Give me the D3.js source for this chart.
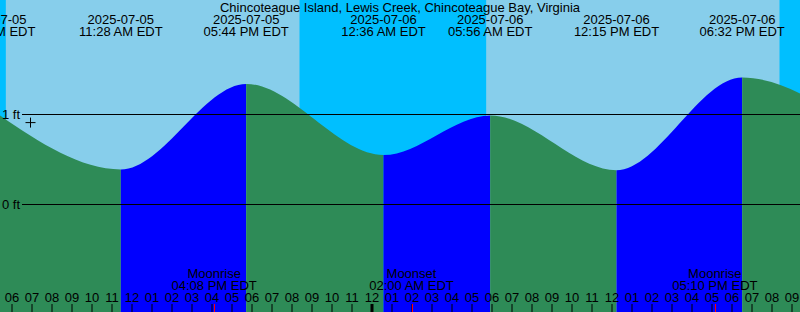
<!DOCTYPE html>
<html>
<head>
<meta charset="utf-8">
<script src="https://cdn.jsdelivr.net/npm/d3@7"></script>
<style>
  html, body { margin: 0; padding: 0; background: #fff; }
  svg { display: block; font-family: "Liberation Sans", Arial, sans-serif; }
</style>
</head>
<body>
<div id="chart"></div>
<script>
const title = "Chincoteague Island, Lewis Creek, Chincoteague Bay, Virginia";

// high / low tide extremes (EDT wall clock), heights in ft
const tideTimes = ["2025-07-05 05:05", "2025-07-05 11:28", "2025-07-05 17:44", "2025-07-06 00:36",
                   "2025-07-06 05:56", "2025-07-06 12:15", "2025-07-06 18:32", "2025-07-07 00:50"];
const tideLevels = [1.04, 0.39, 1.34, 0.55, 0.99, 0.38, 1.41, 0.75];

const sunrises = ["2025-07-05 05:43", "2025-07-06 05:44"];
const sunsets = ["2025-07-05 20:24", "2025-07-06 20:24"];

const moonNames = ["Moonrise", "Moonset", "Moonrise"];
const moonTimes = ["2025-07-05 16:08", "2025-07-06 02:00", "2025-07-06 17:10"];

const nowTime = "2025-07-05 06:57";
const nowLevel = 0.91;

const levelTicks = [0, 1];
const startTime = "2025-07-05 06:00";
const endTime = "2025-07-06 22:00";

const W = 800, H = 312;
const parse = d3.utcParse("%Y-%m-%d %H:%M");
const fmtDate = d3.utcFormat("%Y-%m-%d");
const fmtTime = d => d3.utcFormat("%I:%M %p")(d) + " EDT";

const svg = d3.select("#chart").append("svg")
  .attr("width", W)
  .attr("height", H);

//Scales: 20px per hour, 06:00 at x = 11.5
const t0 = parse(startTime);
const x = d3.scaleTime()
  .domain([t0, d3.utcHour.offset(t0, 40)])
  .range([11.5, 811.5]);
const y = d3.scaleLinear()
  .domain([0, 1])
  .range([204.5, 114.5]);

const tide = tideTimes.map((t, i) => ({ t: parse(t), v: tideLevels[i] }));

//Sky: night everywhere, day between sunrise and sunset
svg.append("rect")
  .attr("width", W).attr("height", H)
  .attr("fill", "#00bfff");
svg.selectAll("rect.day")
  .data(sunrises)
  .enter()
    .append("rect")
    .classed("day", true)
    .attr("x", (d) => x(parse(d)))
    .attr("width", (d, i) => x(parse(sunsets[i])) - x(parse(d)))
    .attr("y", 0)
    .attr("height", H)
    .attr("fill", "#87ceeb");

//Tide area, split into rising (blue) and falling (green) pieces
const area = d3.area()
  .x((d) => x(d.t))
  .y0(H)
  .y1((d) => y(d.v))
  .curve(d3.curveMonotoneX);

const defs = svg.append("defs");
const pieces = [{ a: -1000, b: x(tide[0].t), rising: true }];
for (let i = 0; i < tide.length - 1; i++) {
  pieces.push({ a: x(tide[i].t), b: x(tide[i + 1].t), rising: tide[i + 1].v > tide[i].v });
}
pieces.push({ a: x(tide[tide.length - 1].t), b: 2000, rising: true });
pieces.forEach((p, i) => {
  defs.append("clipPath").attr("id", "seg" + i)
    .append("rect")
    .attr("x", p.a).attr("y", 0)
    .attr("width", p.b - p.a).attr("height", H);
  svg.append("path")
    .datum(tide)
    .attr("d", area)
    .attr("clip-path", `url(#seg${i})`)
    .attr("fill", p.rising ? "#0000ff" : "#2e8b57");
});

//Level lines
svg.selectAll("line.level")
  .data(levelTicks)
  .enter()
    .append("line")
    .attr("x1", 22).attr("x2", W)
    .attr("y1", (d) => y(d)).attr("y2", (d) => y(d))
    .attr("stroke", "#000");
svg.selectAll("text.level")
  .data(levelTicks)
  .enter()
    .append("text")
    .attr("x", 20)
    .attr("y", (d) => y(d))
    .attr("dy", "0.36em")
    .attr("text-anchor", "end")
    .attr("font-size", 13)
    .text((d) => d + " ft");

//Current time marker
const nx = x(parse(nowTime)), ny = y(nowLevel);
svg.append("path")
  .attr("d", `M${nx - 5},${ny}H${nx + 5}M${nx},${ny - 5}V${ny + 5}`)
  .attr("stroke", "#000");

//Title and extreme labels
svg.append("text")
  .attr("x", W / 2).attr("y", 11.5)
  .attr("text-anchor", "middle")
  .attr("font-size", 13)
  .text(title);
const ext = svg.selectAll("g.ext")
  .data(tide)
  .enter()
    .append("g")
    .attr("transform", (d) => `translate(${x(d.t)},0)`)
    .attr("text-anchor", "middle")
    .attr("font-size", 13);
ext.append("text").attr("y", 23.5).text((d) => fmtDate(d.t));
ext.append("text").attr("y", 35.5).text((d) => fmtTime(d.t));

//Hour axis along the bottom
const hours = d3.utcHour.range(t0, parse(endTime));
const axis = d3.axisTop(x)
  .tickValues(hours)
  .tickFormat(d3.utcFormat("%I"))
  .tickSize(8)
  .tickPadding(2);
const ga = svg.append("g")
  .attr("transform", `translate(0,${H})`)
  .call(axis);
ga.select(".domain").remove();
ga.selectAll("text")
  .attr("font-family", "Liberation Sans, Arial, sans-serif")
  .attr("font-size", 13)
  .attr("fill", "#000");
ga.selectAll(".tick line")
  .attr("stroke", "#000")
  .attr("stroke-width", (d) => d.getUTCHours() === 0 ? 3 : 1);

//Moon events
const moon = moonTimes.map((t, i) => ({ t: parse(t), name: moonNames[i] }));
svg.selectAll("line.moon")
  .data(moon)
  .enter()
    .append("line")
    .attr("x1", (d) => Math.round(x(d.t)) + 0.5)
    .attr("x2", (d) => Math.round(x(d.t)) + 0.5)
    .attr("y1", H - 8).attr("y2", H)
    .attr("stroke", "#ff0000");
const mg = svg.selectAll("g.moon")
  .data(moon)
  .enter()
    .append("g")
    .attr("transform", (d) => `translate(${x(d.t)},0)`)
    .attr("text-anchor", "middle")
    .attr("font-size", 13);
mg.append("text").attr("y", 278).text((d) => d.name);
mg.append("text").attr("y", 289.5).text((d) => fmtTime(d.t));
</script>
</body>
</html>
